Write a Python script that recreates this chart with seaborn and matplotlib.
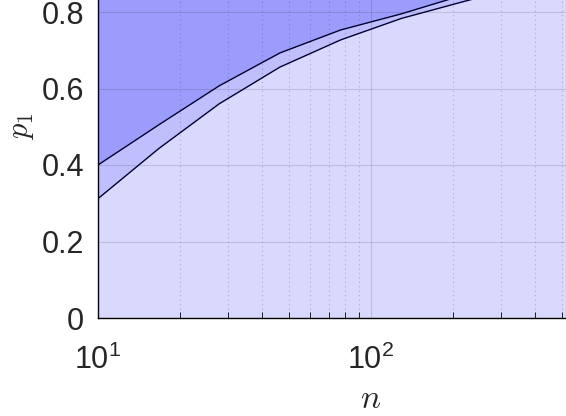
import numpy as np
import matplotlib
matplotlib.use("Agg")
from matplotlib import pyplot as plt
from matplotlib.ticker import FixedLocator, LogLocator, NullFormatter
import pandas as pd
import seaborn as sns

# sample sizes (log spaced) and the two boundary curves
n = [10, 16.7, 27.8, 46.4, 77.4, 129, 215, 359, 599, 1000]
p_upper = [0.400, 0.505, 0.607, 0.693, 0.753, 0.795, 0.843, 0.880, 0.910, 0.930]
p_lower = [0.312, 0.443, 0.560, 0.656, 0.727, 0.783, 0.826, 0.868, 0.902, 0.925]
y_ticks = [0, 0.2, 0.4, 0.6, 0.8]
y_labels = ["0", "0.2", "0.4", "0.6", "0.8"]
x_ticks = [10, 100]
x_labels = [r"$\mathregular{10^{1}}$", r"$\mathregular{10^{2}}$"]

df = pd.DataFrame({"n": n, "upper": p_upper, "lower": p_lower})

sns.set_theme(style="white")
plt.rcParams["font.family"] = ["Liberation Sans", "DejaVu Sans"]
plt.rcParams["mathtext.fontset"] = "cm"

W, H = 566, 416
fig = plt.figure(figsize=(W / 100, H / 100), dpi=100)
# the axes runs past the right and top edges of the image (cropped figure)
ax = fig.add_axes([98 / W, 98 / H, (644 - 98) / W, 382.5 / H])

# filled regions
ax.fill_between(df["n"], df["upper"], 1, color="#9c9cfd", lw=0)
ax.fill_between(df["n"], df["lower"], df["upper"], color="#bfbffd", lw=0)
ax.fill_between(df["n"], 0, df["lower"], color="#d9d9fd", lw=0)

sns.lineplot(data=df, x="n", y="upper", color="#000033", lw=1.0, ax=ax)
sns.lineplot(data=df, x="n", y="lower", color="#000033", lw=1.0, ax=ax)

ax.set_xscale("log")
ax.set_xlim(10, 1000)
ax.set_ylim(0, 1)

ax.yaxis.set_major_locator(FixedLocator(y_ticks))
ax.set_yticklabels(y_labels)
ax.xaxis.set_major_locator(FixedLocator(x_ticks))
ax.set_xticklabels(x_labels)
ax.xaxis.set_minor_locator(LogLocator(base=10, subs=np.arange(2, 10)))
ax.xaxis.set_minor_formatter(NullFormatter())

ax.tick_params(axis="both", which="major", direction="in", length=6, width=0.8,
               color="black", labelsize=22, labelcolor="#262626")
ax.tick_params(axis="x", which="major", pad=19)
ax.tick_params(axis="y", which="major", pad=10)
ax.tick_params(axis="x", which="minor", direction="in", length=4, width=0.6,
               color="black", bottom=True)

ax.set_axisbelow(False)
ax.grid(True, which="major", color="#262626", alpha=0.15, lw=0.8)
ax.grid(True, which="minor", axis="x", color="#262626", alpha=0.25, lw=0.8,
        linestyle=(0, (1, 3)))

for side in ["left", "bottom"]:
    ax.spines[side].set_color("black")
    ax.spines[side].set_linewidth(1.0)
for side in ["top", "right"]:
    ax.spines[side].set_visible(False)

ax.set_xlabel("$n$", fontsize=24, labelpad=6, color="#262626")
ax.set_ylabel("$p_1$", fontsize=22, labelpad=4, color="#262626")

fig.savefig("out.png", dpi=100)
